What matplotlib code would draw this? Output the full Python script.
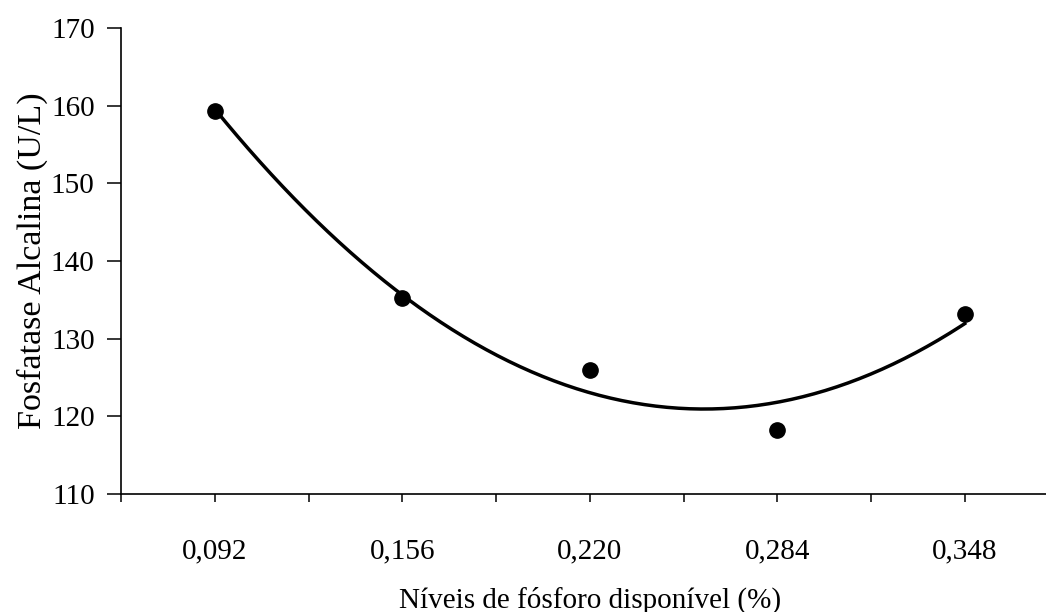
import numpy as np
import matplotlib
matplotlib.use("Agg")
import matplotlib.pyplot as plt

# Dados
niveis = [0.092, 0.156, 0.220, 0.284, 0.348]
rotulos = ["0,092", "0,156", "0,220", "0,284", "0,348"]
fosfatase = [159.3, 135.2, 126.0, 118.3, 133.2]

plt.rcParams['font.family'] = ['Liberation Serif', 'DejaVu Serif']

fig = plt.figure(figsize=(10.46, 6.12), dpi=100)
ax = fig.add_axes([121 / 1046, 118 / 612, 937.5 / 1046, 466 / 612])

# Linha de tendência polinomial (2a ordem) ajustada aos pontos
coef = np.polyfit(niveis, fosfatase, 2)
xs = np.linspace(niveis[0], niveis[-1], 200)
ax.plot(xs, np.polyval(coef, xs), color='black', lw=2.5, zorder=2)
ax.plot(niveis, fosfatase, 'o', color='black', ms=11, zorder=3)

ax.set_xlim(0.060, 0.380)
ax.set_ylim(110, 170)
ax.set_yticks(range(110, 171, 10))
ax.set_xticks(niveis)
ax.set_xticklabels(rotulos)
ax.set_xticks(np.arange(0.060, 0.381, 0.032), minor=True)

ax.spines['top'].set_visible(False)
ax.spines['right'].set_visible(False)
for s in ['left', 'bottom']:
    ax.spines[s].set_linewidth(1.2)

ax.tick_params(axis='y', direction='out', length=10, width=1.1, pad=9, labelsize=21)
ax.tick_params(axis='x', which='both', direction='out', length=6, width=1.1, pad=26, labelsize=21)
ax.tick_params(axis='x', which='minor', labelbottom=False)

ax.set_xlabel('Níveis de fósforo disponível (%)', fontsize=21, labelpad=16)
ax.set_ylabel('Fosfatase Alcalina (U/L)', fontsize=24.5, labelpad=2)

fig.savefig('out.png', dpi=100)
